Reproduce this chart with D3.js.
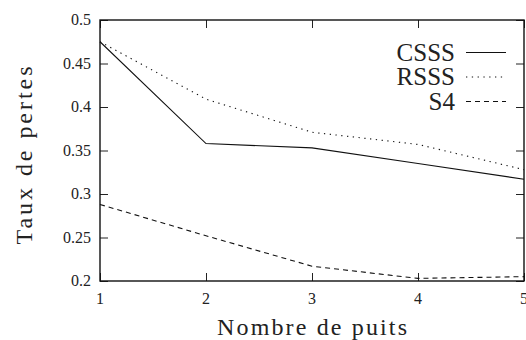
<!DOCTYPE html>
<html>
<head>
<meta charset="utf-8">
<script src="https://cdn.jsdelivr.net/npm/d3@7"></script>
<style>
  svg text { font-family: Tinos; }
</style>
</head>
<body style="margin:0">
<script>
// Data
var puits = [1, 2, 3, 4, 5];
var csss = [0.475, 0.358, 0.353, 0.335, 0.317];
var rsss = [0.475, 0.409, 0.371, 0.357, 0.328];
var s4 = [0.288, 0.252, 0.217, 0.203, 0.205];
var yTicks = [0.2, 0.25, 0.3, 0.35, 0.4, 0.45, 0.5];
var seriesNames = ['CSSS', 'RSSS', 'S4'];

var margin = {top: 20, right: 2, bottom: 59, left: 100};
var W = 526, H = 340;
var width = W - margin.left - margin.right;
var height = H - margin.top - margin.bottom;
var serif = 'Tinos';

var root = d3.select('body')
  .append('svg')
  .attr('width', W)
  .attr('height', H)
  .attr('font-family', serif);

var svg = root.append('g')
  .attr('transform', 'translate(' + margin.left + ',' + margin.top + ')');

var xScale = d3.scaleLinear().domain([1, 5]).range([0, width]);
var yScale = d3.scaleLinear().domain([0.2, 0.5]).range([height, 0]);

// ticks pointing inward on all four sides (labels drawn separately)
var tickLen = 8;
svg.append('g')
  .attr('transform', 'translate(0,' + height + ')')
  .call(d3.axisBottom(xScale).tickValues(puits).tickSize(-tickLen).tickFormat(''));
svg.append('g')
  .call(d3.axisTop(xScale).tickValues(puits).tickSize(-tickLen).tickFormat(''));
svg.append('g')
  .call(d3.axisLeft(yScale).tickValues(yTicks).tickSize(-tickLen).tickFormat(''));
svg.append('g')
  .attr('transform', 'translate(' + width + ',0)')
  .call(d3.axisRight(yScale).tickValues(yTicks).tickSize(-tickLen).tickFormat(''));

svg.selectAll('.domain').remove();
svg.selectAll('.tick text').remove();
svg.selectAll('.tick line').attr('stroke', '#222').attr('stroke-width', 1);

// tick labels
root.selectAll('.xlab')
  .data(puits)
  .enter().append('text')
  .attr('class', 'xlab')
  .attr('x', function(d){ return margin.left + xScale(d); })
  .attr('y', margin.top + height + 23)
  .attr('text-anchor', 'middle')
  .attr('font-family', serif)
  .style('font-size', '16px')
  .style('fill', '#222')
  .text(function(d){ return d; });

root.selectAll('.ylab')
  .data(yTicks)
  .enter().append('text')
  .attr('class', 'ylab')
  .attr('x', margin.left - 9)
  .attr('y', function(d){ return margin.top + yScale(d) + 5; })
  .attr('text-anchor', 'end')
  .attr('font-family', serif)
  .style('font-size', '16px')
  .style('fill', '#222')
  .text(function(d){ return +d.toFixed(2); });

// frame
svg.append('rect')
  .attr('x', 0).attr('y', 0)
  .attr('width', width).attr('height', height)
  .attr('fill', 'none')
  .attr('stroke', '#111')
  .attr('stroke-width', 1.4);

var series = [
  {name: seriesNames[0], values: csss, dash: null},
  {name: seriesNames[1], values: rsss, dash: '1.3,4.5'},
  {name: seriesNames[2], values: s4, dash: '5,4'}
];

var line = d3.line()
  .x(function(d, i){ return xScale(puits[i]); })
  .y(function(d){ return yScale(d); });

svg.selectAll('.serie')
  .data(series)
  .enter().append('path')
  .attr('class', 'serie')
  .attr('d', function(d){ return line(d.values); })
  .attr('fill', 'none')
  .attr('stroke', '#111')
  .attr('stroke-width', 1.1)
  .attr('stroke-dasharray', function(d){ return d.dash; });

// legend
var legendY = function(i){ return margin.top + 32.5 + i * 24.5; };

root.selectAll('.legtext')
  .data(series)
  .enter().append('text')
  .attr('class', 'legtext')
  .attr('x', margin.left + 355)
  .attr('y', function(d, i){ return legendY(i) + 8; })
  .attr('text-anchor', 'end')
  .attr('font-family', serif)
  .style('font-size', '25px')
  .style('fill', '#222')
  .text(function(d){ return d.name; });

root.selectAll('.legline')
  .data(series)
  .enter().append('line')
  .attr('class', 'legline')
  .attr('x1', margin.left + 366).attr('x2', margin.left + 406)
  .attr('y1', function(d, i){ return legendY(i); })
  .attr('y2', function(d, i){ return legendY(i); })
  .attr('stroke', '#111')
  .attr('stroke-width', 1.1)
  .attr('stroke-dasharray', function(d){ return d.dash; });

// axis labels
root.append('text')
  .attr('x', margin.left + width / 2)
  .attr('y', margin.top + height + 54)
  .attr('text-anchor', 'middle')
  .attr('textLength', 190)
  .attr('lengthAdjust', 'spacing')
  .attr('font-family', serif)
  .style('font-size', '24px')
  .style('fill', '#222')
  .text('Nombre de puits');

root.append('text')
  .attr('transform', 'translate(' + 32 + ',' + (margin.top + height / 2 + 5) + ') rotate(-90)')
  .attr('text-anchor', 'middle')
  .attr('textLength', 178)
  .attr('lengthAdjust', 'spacing')
  .attr('font-family', serif)
  .style('font-size', '24px')
  .style('fill', '#222')
  .text('Taux de pertes');
</script>
</body>
</html>
